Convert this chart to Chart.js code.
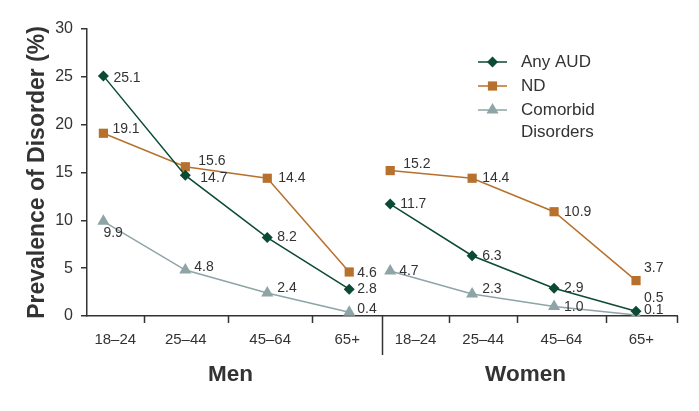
<!DOCTYPE html>
<html>
<head>
<meta charset="utf-8">
<script src="https://cdn.jsdelivr.net/npm/chart.js@4.4.0/dist/chart.umd.min.js"></script>
<style>
  html, body { margin: 0; padding: 0; background: #fff; }
  #wrap { width: 699px; height: 411px; }
</style>
</head>
<body>
<div id="wrap"><canvas id="chart" width="699" height="411"></canvas></div>
<script>
// Data
const groups = ['Men', 'Women'];
const ageGroups = ['18–24', '25–44', '45–64', '65+'];
const seriesNames = ['Any AUD', 'ND', 'Comorbid Disorders'];
const anyAudMen = [25.1, 14.7, 8.2, 2.8];
const anyAudWomen = [11.7, 6.3, 2.9, 0.5];
const ndMen = [19.1, 15.6, 14.4, 4.6];
const ndWomen = [15.2, 14.4, 10.9, 3.7];
const comorbidMen = [9.9, 4.8, 2.4, 0.4];
const comorbidWomen = [4.7, 2.3, 1.0, 0.1];
const yTicks = [0, 5, 10, 15, 20, 25, 30];

// Layout (category index units on the x axis)
const groupStart = [0, 3.5];
const xMin = -0.2, xMax = 7.0, separator = 3.4;
const tickEdges = [[-0.2, 0.49, 1.52, 2.55, 3.4], [3.4, 4.22, 5.05, 6.13, 7.0]];
const colors = ['#0b4a33', '#b7712d', '#8ea4a6'];
const pointStyles = ['rectRot', 'rect', 'triangle'];
const pointRadii = [5.5, 6.5, 7];
// value label offsets [dx, dy] per series, group, point
const labelOffsets = [
  [[10, 2], [15, 3], [10, 0], [8, 0]],
  [[10, 0], [10, 0], [10, 0], [8, -13]],
  [[9, -4], [13, -6], [11, 0], [8, 1]],
  [[13, -6], [10, 0], [10, 0], [8, -12]],
  [[0, 12], [9, -3], [10, -5], [8, -3]],
  [[9, 0], [10, -5], [10, 1], [8, -5]]
];

const seriesData = [[anyAudMen, anyAudWomen], [ndMen, ndWomen], [comorbidMen, comorbidWomen]];
const datasets = [];
seriesData.forEach((pair, s) => {
  pair.forEach((vals, g) => {
    datasets.push({
      label: seriesNames[s],
      data: vals.map((v, i) => ({ x: groupStart[g] + i, y: v })),
      borderColor: colors[s],
      backgroundColor: colors[s],
      borderWidth: 1.5,
      pointStyle: pointStyles[s],
      pointRadius: pointRadii[s],
      pointHoverRadius: pointRadii[s],
      pointBorderWidth: 0,
      tension: 0
    });
  });
});

const font = '"Liberation Sans", Arial, Helvetica, sans-serif';
const textColor = '#333';

const decorPlugin = {
  id: 'decor',
  afterDraw(chart) {
    const ctx = chart.ctx;
    const xs = chart.scales.x;
    const bottom = chart.chartArea.bottom;
    ctx.save();
    ctx.strokeStyle = '#333';
    ctx.lineWidth = 1.5;
    // tick marks
    tickEdges.forEach(edges => {
      edges.slice(1).forEach(e => {
        if (e === separator) return;
        const px = Math.round(xs.getPixelForValue(e)) + 0.5;
        ctx.beginPath();
        ctx.moveTo(px, bottom);
        ctx.lineTo(px, bottom + 7);
        ctx.stroke();
      });
    });
    // group separator
    const sx = Math.round(xs.getPixelForValue(separator)) + 0.5;
    ctx.beginPath();
    ctx.moveTo(sx, bottom);
    ctx.lineTo(sx, bottom + 39);
    ctx.stroke();

    // age labels and group labels
    ctx.fillStyle = textColor;
    ctx.textAlign = 'center';
    ctx.textBaseline = 'middle';
    tickEdges.forEach((edges, g) => {
      ctx.font = '15px ' + font;
      ageGroups.forEach((lab, i) => {
        const mid = (xs.getPixelForValue(edges[i]) + xs.getPixelForValue(edges[i + 1])) / 2;
        ctx.fillText(lab, mid, bottom + 24);
      });
      ctx.font = 'bold 22.5px ' + font;
      const gm = (xs.getPixelForValue(edges[0]) + xs.getPixelForValue(edges[4])) / 2;
      ctx.fillText(groups[g], gm - 4, bottom + 59);
    });

    // value labels
    ctx.font = '14px ' + font;
    ctx.textAlign = 'left';
    chart.data.datasets.forEach((ds, d) => {
      const meta = chart.getDatasetMeta(d);
      meta.data.forEach((pt, i) => {
        const off = labelOffsets[d][i];
        ctx.fillText(ds.data[i].y.toFixed(1), pt.x + off[0], pt.y + off[1]);
      });
    });

    // legend
    const lx = 478, ly = [62, 86, 110];
    ctx.font = '17px ' + font;
    seriesNames.forEach((name, s) => {
      ctx.strokeStyle = colors[s];
      ctx.lineWidth = 1.5;
      ctx.beginPath();
      ctx.moveTo(lx, ly[s]);
      ctx.lineTo(lx + 29, ly[s]);
      ctx.stroke();
      ctx.fillStyle = colors[s];
      Chart.helpers.drawPoint(ctx, { pointStyle: pointStyles[s], radius: pointRadii[s], borderWidth: 0 }, lx + 14.5, ly[s]);
      ctx.fillStyle = textColor;
      const words = name === 'Comorbid Disorders' ? ['Comorbid', 'Disorders'] : [name];
      words.forEach((w, k) => ctx.fillText(w, 521, ly[s] + k * 22));
    });
    ctx.restore();
  }
};

new Chart(document.getElementById('chart'), {
  type: 'line',
  data: { datasets },
  options: {
    responsive: false,
    animation: false,
    layout: { padding: { top: 29, right: 22, left: 0, bottom: 0 } },
    plugins: { legend: { display: false }, tooltip: { enabled: false } },
    scales: {
      x: {
        type: 'linear',
        min: xMin,
        max: xMax,
        ticks: { display: false },
        grid: { display: false },
        border: { display: true, color: '#333', width: 1.5 },
        afterFit(scale) { scale.height = 95; }
      },
      y: {
        min: 0,
        max: 30,
        afterBuildTicks(scale) { scale.ticks = yTicks.map(v => ({ value: v })); },
        ticks: { color: textColor, font: { family: font, size: 16 }, padding: 8 },
        grid: { drawOnChartArea: false, tickLength: 6, color: '#333', lineWidth: 1.5 },
        border: { display: true, color: '#333', width: 1.5 },
        title: {
          display: true,
          text: 'Prevalence of Disorder (%)',
          color: textColor,
          font: { family: font, size: 23, weight: 'bold' },
          padding: { top: 24, bottom: 0 }
        },
        afterFit(scale) { scale.width = 87; }
      }
    }
  },
  plugins: [decorPlugin]
});
</script>
</body>
</html>
